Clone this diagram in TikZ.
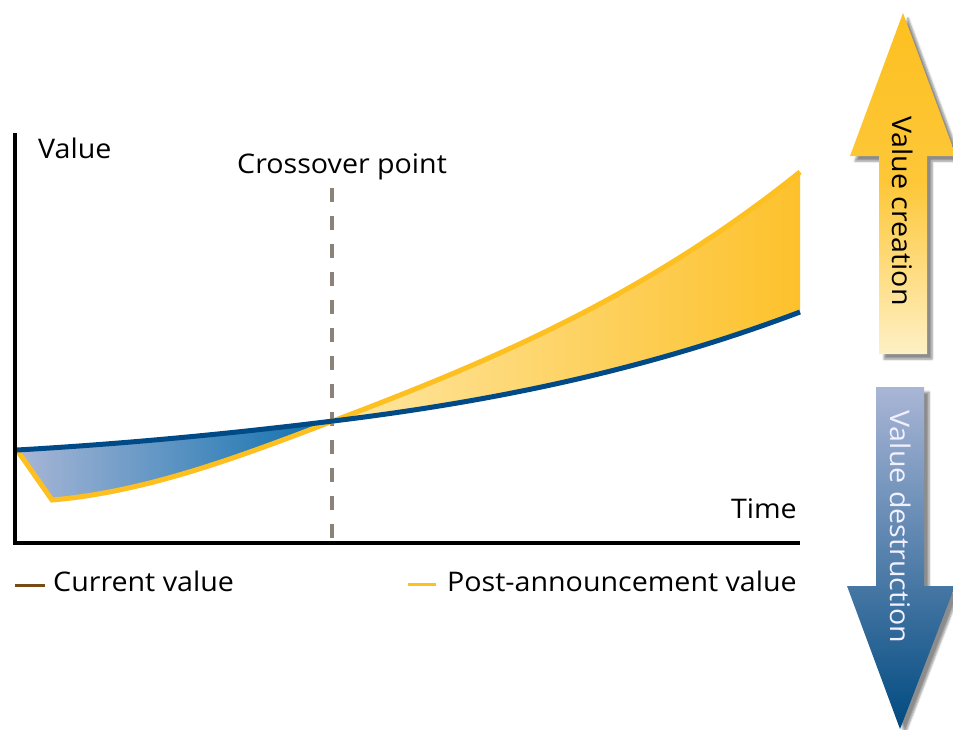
\documentclass[tikz,border=0pt]{standalone}
\usepackage{fontspec}
\setmainfont{Open Sans}[FakeStretch=1.06]
\usetikzlibrary{shadows.blur}
\definecolor{navy}{HTML}{004B87}
\definecolor{gold}{HTML}{FDC020}
\definecolor{dashgray}{HTML}{8C8378}
\definecolor{legbrown}{HTML}{7A4A14}
\definecolor{lblue}{HTML}{A9B6D6}
\definecolor{mblue}{HTML}{0A6FAE}
\definecolor{lgold}{HTML}{FEE6A2}
\definecolor{dgold}{HTML}{FDC12B}
\definecolor{pgold}{HTML}{FEF0C6}
\definecolor{darrow}{HTML}{004A80}
\tikzset{
  lbl/.style={font=\fontsize{27}{31}\selectfont, inner sep=0pt, anchor=base west},
  axis/.style={line width=4.5pt, black},
  curve/.style={line width=5pt},
  bigarrow/.style={blur shadow={shadow xshift=5pt, shadow yshift=-5pt, shadow blur steps=6, shadow opacity=45}},
}
\begin{document}
\begin{tikzpicture}[x=1pt,y=-1pt]
\path[use as bounding box] (0,0) rectangle (953,729);
% fills
\path[left color=lblue, right color=mblue]
  (17,450) .. controls (122,444) and (228,434) .. (333,421)
  .. controls (239,457) and (146,492) .. (52,500) -- cycle;
\path[left color=lgold, right color=dgold]
  (333,421) .. controls (489,362) and (644,297) .. (800,172)
  -- (800,312) .. controls (644,371) and (489,402) .. (333,421) -- cycle;
% dashed crossover
\coordinate (ctop) at (332,188);
\coordinate (cbot) at (332,543);
\draw[dashgray, line width=4pt, dash pattern=on 14pt off 14pt] (ctop) -- (cbot);
% curves
\draw[curve, gold, line join=miter]
  (17,450) -- (52,500) .. controls (146,492) and (239,457) .. (333,421)
  .. controls (489,362) and (644,297) .. (800,172);
\draw[curve, navy]
  (17,450) .. controls (122,444) and (228,434) .. (333,421)
  .. controls (489,402) and (644,371) .. (800,312);
% axes
\coordinate (ytop) at (15,133);
\coordinate (orig) at (15,545.2);
\coordinate (xstart) at (12.8,543);
\coordinate (xend) at (800,543);
\draw[axis] (ytop) -- (orig);
\draw[axis] (xstart) -- (xend);
% labels
\node[lbl] (value) at (38,158) {Value};
\node[lbl] (cross) at (237,173) {Crossover point};
\node[lbl, anchor=base east] (time) at (797,518) {Time};
% legend
\coordinate (l1a) at (15,585); \coordinate (l1b) at (45,585);
\draw[legbrown, line width=3pt] (l1a) -- (l1b);
\node[lbl] (cur) at (53,591) {Current value};
\coordinate (l2a) at (408,584); \coordinate (l2b) at (436,584);
\draw[gold, line width=3pt] (l2a) -- (l2b);
\node[lbl] (post) at (447,591) {Post-announcement value};
% big arrows
\path[bigarrow, top color=gold, bottom color=pgold, middle color=gold!85!pgold]
  (903,13) -- (956,156) -- (927,156) -- (927,354) -- (879,354) -- (879,156) -- (850,156) -- cycle;
\node[font=\fontsize{27}{31}\selectfont, rotate=-90, inner sep=0pt] (create) at (903,211) {Value creation};
\path[bigarrow, top color=lblue, bottom color=darrow]
  (876,387) -- (924,387) -- (924,586) -- (955,586) -- (900,729) -- (847,586) -- (876,586) -- cycle;
\node[font=\fontsize{27}{31}\selectfont, rotate=-90, inner sep=0pt, text=white!94!blue] (destroy) at (901,527) {Value destruction};
\end{tikzpicture}
\end{document}
